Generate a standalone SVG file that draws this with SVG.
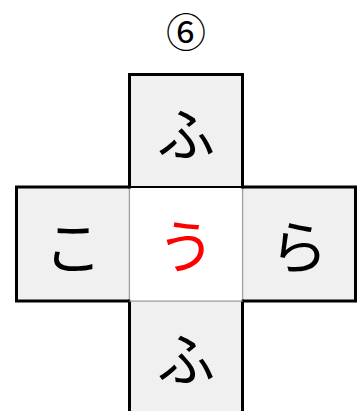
<svg xmlns="http://www.w3.org/2000/svg" width="357" height="411" viewBox="0 0 357 411">
<style>
.fill{fill:#f0f0f0;stroke:none}
.edge{fill:none;stroke:#000;stroke-width:3;stroke-linejoin:miter}
.inner{fill:none;stroke:#a0a0a0;stroke-width:1.5}
.ch{font-family:"Noto Sans CJK JP",sans-serif;font-size:58px;text-anchor:middle;dominant-baseline:central;fill:#000}
.title{font-family:"Noto Sans CJK JP","DejaVu Sans",sans-serif;font-size:40px;text-anchor:middle;fill:#000}
</style>
<rect width="357" height="411" fill="#fff"/>
<text class="title" x="186" y="47">⑥</text>
<g id="left"><rect class="fill" x="16.5" y="187" width="113" height="114"/><path class="edge" d="M129.5,187 H16.5 V301 H129.5"/><line class="inner" x1="129.5" y1="187" x2="129.5" y2="301"/><text class="ch" x="73" y="244">こ</text></g>
<g id="right"><rect class="fill" x="242.5" y="187" width="113" height="114"/><path class="edge" d="M242.5,187 H355.5 V301 H242.5"/><line class="inner" x1="242.5" y1="187" x2="242.5" y2="301"/><text class="ch" x="299" y="244">ら</text></g>
<g id="bottom"><rect class="fill" x="129.5" y="301" width="113" height="112"/><path class="edge" d="M129.5,299.5 V413 M242.5,299.5 V413"/><line class="inner" x1="129.5" y1="301" x2="242.5" y2="301"/><text class="ch" x="186" y="356">ふ</text></g>
<g id="center"><rect x="130.25" y="188" width="111.5" height="112.25" fill="#fff"/><text class="ch" x="186" y="243" style="fill:#f00">う</text></g>
<g id="top"><rect class="fill" x="129.5" y="74.5" width="113" height="112.5"/><path class="edge" d="M129.5,188.5 V74.5 H242.5 V188.5"/><line x1="129.5" y1="187" x2="242.5" y2="187" stroke="#000" stroke-width="2"/><text class="ch" x="186" y="131">ふ</text></g>
<g id="connectors"></g>
</svg>
